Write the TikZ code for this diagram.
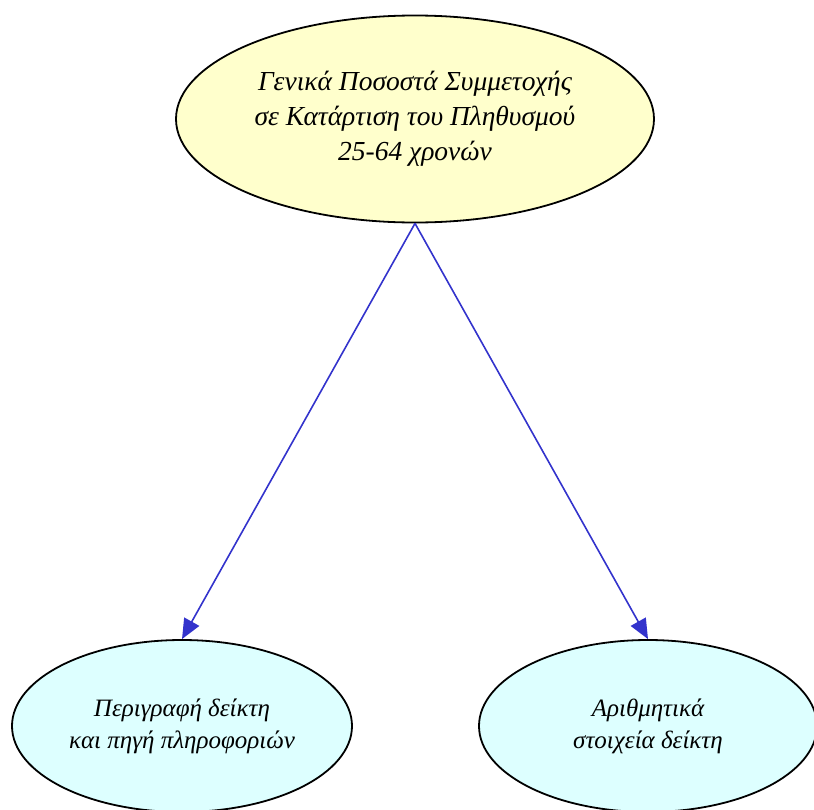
\documentclass[tikz,border=0pt]{standalone}
\usepackage{fontspec}
\setmainfont{Liberation Serif}
\usetikzlibrary{shapes.geometric,arrows.meta}

\definecolor{topfill}{HTML}{FFFFCC}
\definecolor{leaffill}{HTML}{DDFFFF}
\definecolor{linkblue}{HTML}{3333CC}

\tikzset{
  bubble/.style={ellipse,draw=black,line width=1.8pt,inner sep=0pt,align=center},
  link/.style={draw=linkblue,line width=1.6pt,-{Triangle[length=20pt,width=17pt]}}
}

\begin{document}
\begin{tikzpicture}[x=1pt,y=-1pt]
\useasboundingbox (0,0) rectangle (814,809);
% Main indicator
\node[bubble,fill=topfill,minimum width=478pt,minimum height=207pt,
  font=\itshape\fontsize{27.5}{35}\selectfont] (main) at (415,119)
  {Γενικά Ποσοστά Συμμετοχής\\σε Κατάρτιση του Πληθυσμού\\25-64 χρονών};

% Sub pages
\node[bubble,fill=leaffill,minimum width=340pt,minimum height=172pt,
  font=\itshape\fontsize{25}{32}\selectfont] (descr) at (182,726)
  {Περιγραφή δείκτη\\και πηγή πληροφοριών};
\node[bubble,fill=leaffill,minimum width=338pt,minimum height=172pt,
  font=\itshape\fontsize{25}{32}\selectfont] (data) at (648,726)
  {Αριθμητικά\\στοιχεία δείκτη};

\draw[link] (main.south) -- (descr.north);
\draw[link] (main.south) -- (data.north);
\end{tikzpicture}
\end{document}
